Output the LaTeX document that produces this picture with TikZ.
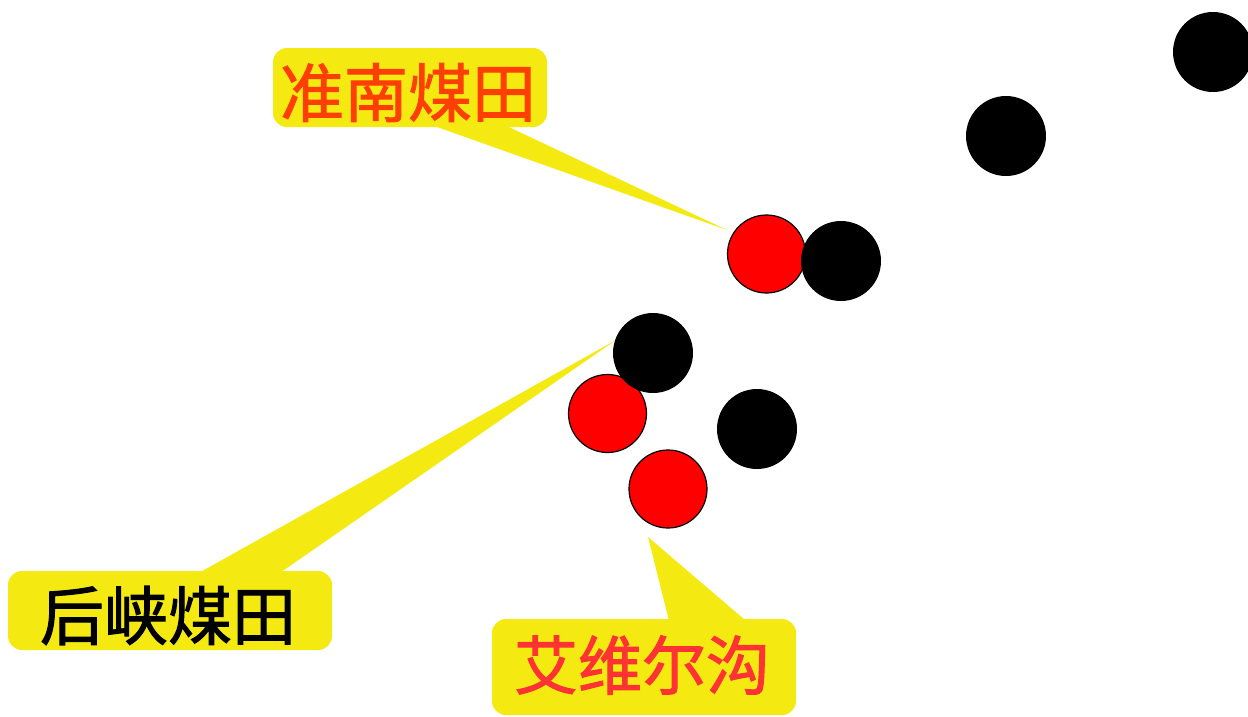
\documentclass[tikz,border=0pt]{standalone}
\usepackage{fontspec}
\newfontfamily\cjk[FakeBold=1.6]{Noto Sans CJK SC}
\definecolor{callyellow}{HTML}{F4EA12}
\definecolor{txtorange}{HTML}{FF3F00}
\definecolor{txtred}{HTML}{FF3333}
\definecolor{dotred}{HTML}{FF0000}
\tikzset{
  callbox/.style={fill=callyellow, rounded corners=14pt, inner sep=0pt},
  calltext/.style={inner sep=0pt, font=\cjk\fontsize{64}{64}\selectfont},
  tail/.style={fill=callyellow},
  reddot/.style={circle, fill=dotred, draw=black, line width=1.2pt, minimum size=78pt, inner sep=0pt},
  blackdot/.style={circle, fill=black, minimum size=80pt, inner sep=0pt},
}
\begin{document}
\begin{tikzpicture}[x=1pt,y=-1pt]
\useasboundingbox (0,0) rectangle (1248,716);
% callout boxes
\node[callbox, minimum width=274pt, minimum height=79pt] (hn) at (410,87.5) {};
\node[callbox, minimum width=324pt, minimum height=79pt] (hx) at (170,610.5) {};
\node[callbox, minimum width=304pt, minimum height=96pt] (aw) at (644,667) {};
% texts
\node[calltext, text=txtorange] (hnt) at ([xshift=-2pt,yshift=-5pt]hn.center) {准南煤田};
\node[calltext, text=black] (hxt) at ([xshift=-2pt,yshift=-5pt]hx.center) {后峡煤田};
\node[calltext, text=txtred] (awt) at ([xshift=-2pt,yshift=2pt]aw.center) {艾维尔沟};
% tail tips
\coordinate (tiphn) at (727,230);
\coordinate (tiphx) at (616,340);
\coordinate (tipaw) at (648,537);
% tails
\fill[tail] ([xshift=22pt,yshift=2pt]hn.south) -- (tiphn) -- ([xshift=95pt,yshift=2pt]hn.south) -- cycle;
\fill[tail] ([xshift=29pt,yshift=-2pt]hx.north) -- (tiphx) -- ([xshift=110pt,yshift=-2pt]hx.north) -- cycle;
\fill[tail] ([xshift=25pt,yshift=-2pt]aw.north) -- (tipaw) -- ([xshift=102pt,yshift=-2pt]aw.north) -- cycle;
% red dots
\node[reddot] (r1) at (766.5,254) {};
\node[reddot] (r2) at (607.5,413.5) {};
\node[reddot] (r3) at (668,489) {};
% black dots
\node[blackdot] (b1) at (841,261) {};
\node[blackdot] (b2) at (653,353) {};
\node[blackdot] (b3) at (757,429) {};
\node[blackdot] (b4) at (1006,136) {};
\node[blackdot] (b5) at (1213,52) {};
\end{tikzpicture}
\end{document}
